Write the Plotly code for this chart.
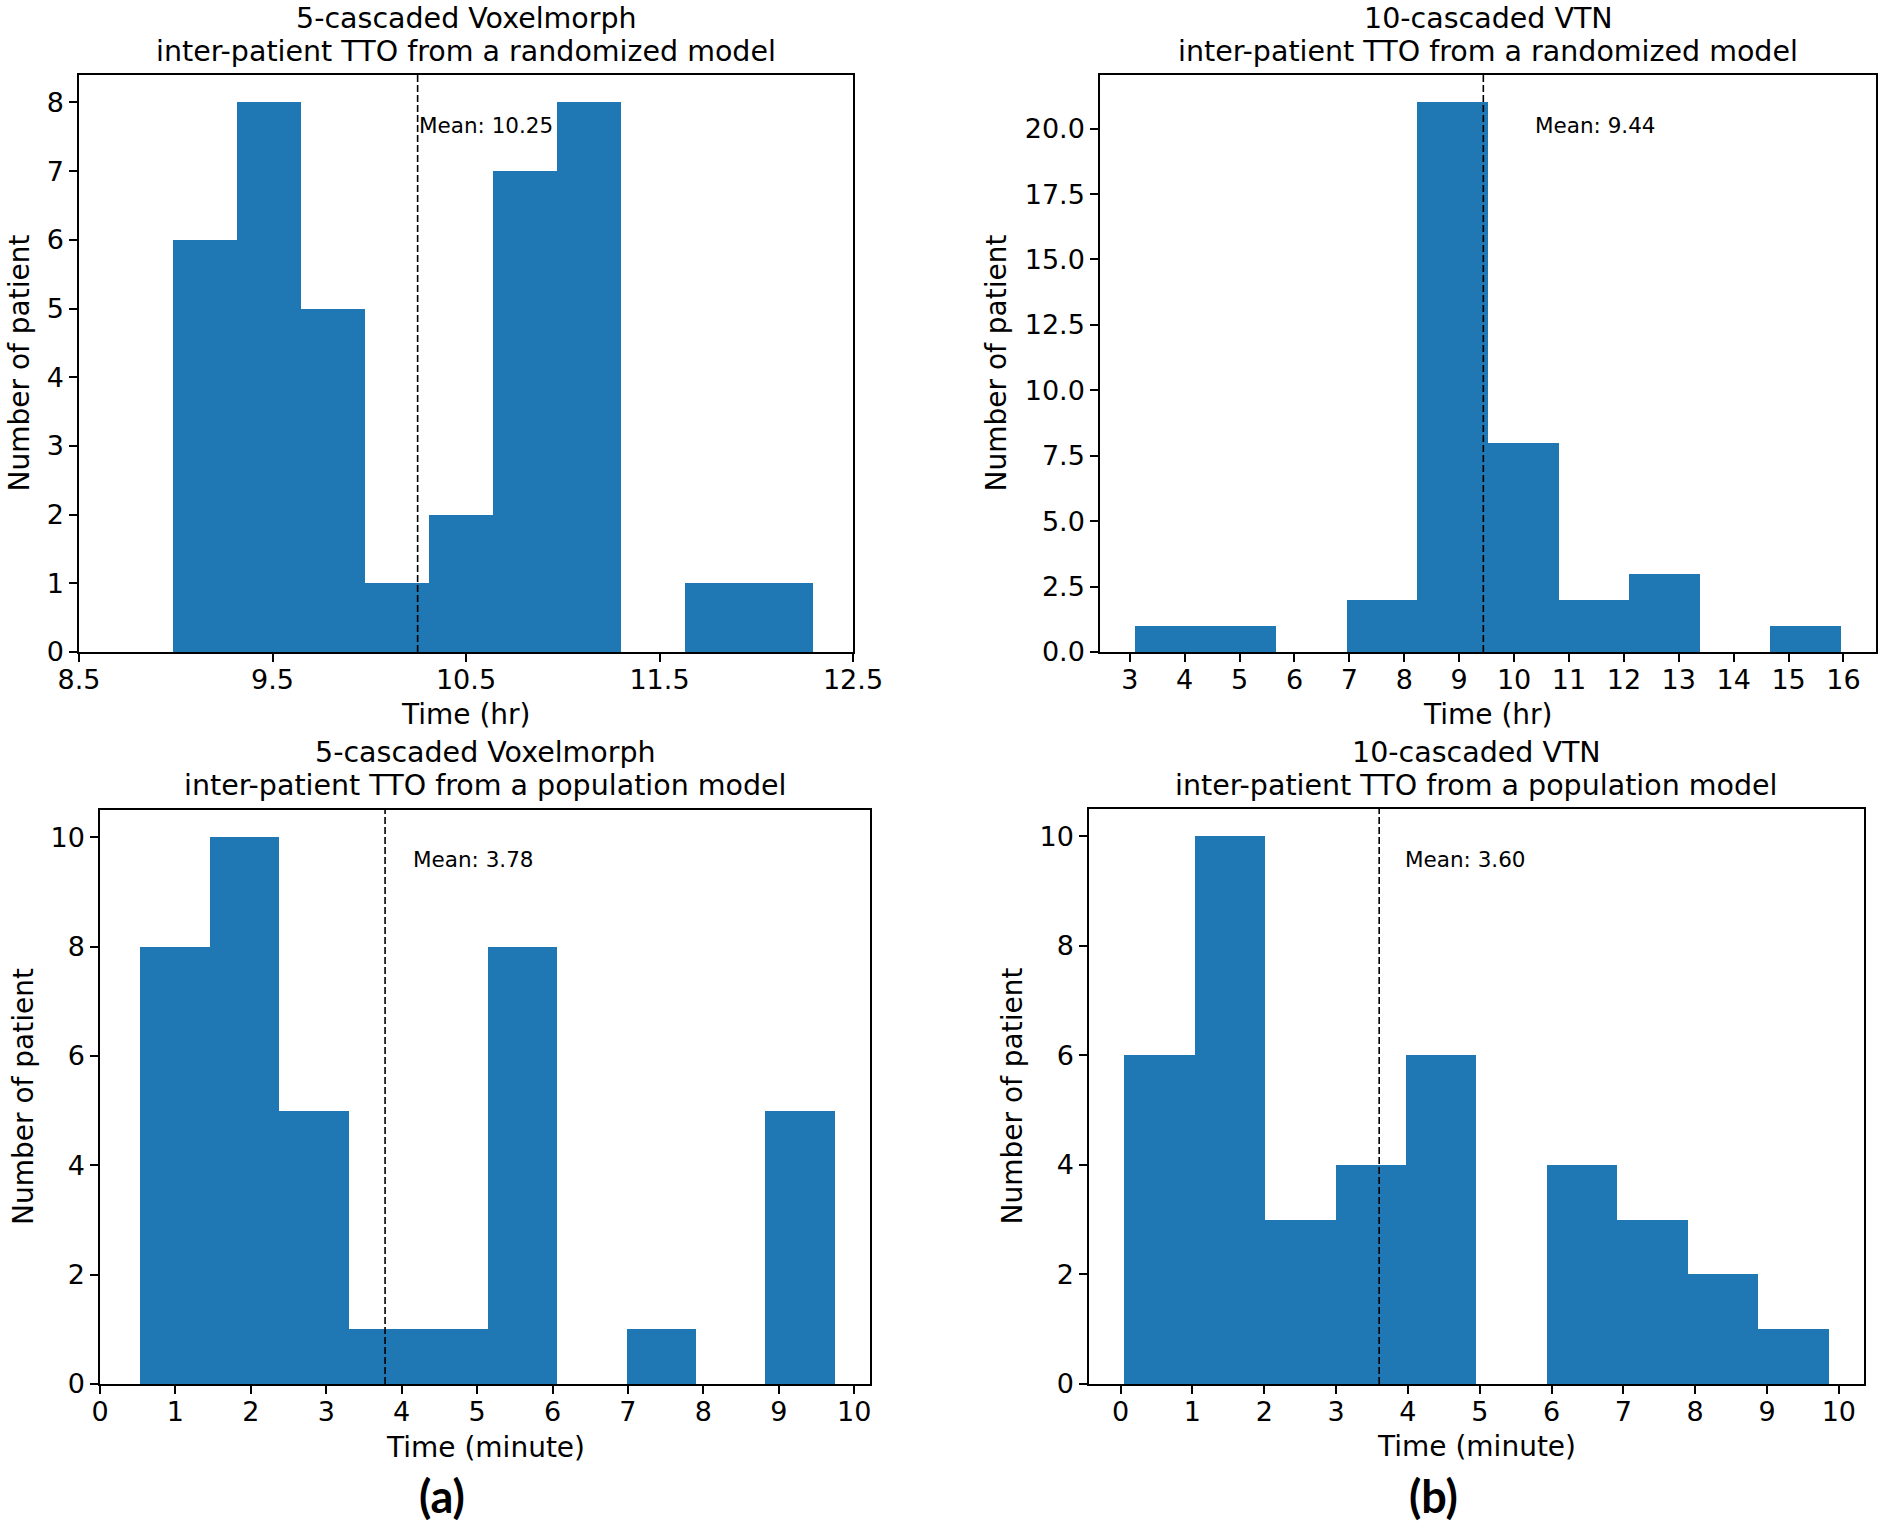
import plotly.graph_objects as go

# ---------------- data ----------------
# (a) top: 5-cascaded Voxelmorph, randomized model (hours)
p1_counts = [6, 8, 5, 1, 2, 7, 8, 0, 1, 1]
p1_first_edge = 8.984
p1_bin_width = 0.3308
p1_mean = 10.25
p1_xticks = [8.5, 9.5, 10.5, 11.5, 12.5]
p1_yticks = [0, 1, 2, 3, 4, 5, 6, 7, 8]

# (b) top: 10-cascaded VTN, randomized model (hours)
p2_counts = [1, 1, 0, 2, 21, 8, 2, 3, 0, 1]
p2_first_edge = 3.10
p2_bin_width = 1.285
p2_mean = 9.44
p2_xticks = [3, 4, 5, 6, 7, 8, 9, 10, 11, 12, 13, 14, 15, 16]
p2_yticks = [0.0, 2.5, 5.0, 7.5, 10.0, 12.5, 15.0, 17.5, 20.0]

# (a) bottom: 5-cascaded Voxelmorph, population model (minutes)
p3_counts = [8, 10, 5, 1, 1, 8, 0, 1, 0, 5]
p3_first_edge = 0.533
p3_bin_width = 0.9212
p3_mean = 3.78
p3_xticks = [0, 1, 2, 3, 4, 5, 6, 7, 8, 9, 10]
p3_yticks = [0, 2, 4, 6, 8, 10]

# (b) bottom: 10-cascaded VTN, population model (minutes)
p4_counts = [6, 10, 3, 4, 6, 0, 4, 3, 2, 1]
p4_first_edge = 0.05
p4_bin_width = 0.9807
p4_mean = 3.60
p4_xticks = [0, 1, 2, 3, 4, 5, 6, 7, 8, 9, 10]
p4_yticks = [0, 2, 4, 6, 8, 10]

titles_line1 = ["5-cascaded Voxelmorph", "10-cascaded VTN",
                "5-cascaded Voxelmorph", "10-cascaded VTN"]
titles_line2 = ["inter-patient TTO from a randomized model",
                "inter-patient TTO from a randomized model",
                "inter-patient TTO from a population model",
                "inter-patient TTO from a population model"]
x_titles = ["Time (hr)", "Time (hr)", "Time (minute)", "Time (minute)"]
y_title = "Number of patient"
panel_labels = ["(a)", "(b)"]

# ---------------- layout / style ----------------
W, H = 1884, 1525
FONT = "DejaVu Sans"
BAR_COLOR = "#1f77b4"

panels = [
    dict(counts=p1_counts, e0=p1_first_edge, bw=p1_bin_width, mean=p1_mean,
         xticks=p1_xticks, yticks=p1_yticks, yfmt="d",
         xrange=[8.5, 12.5], yrange=[0, 8.4],
         px=(79, 853), py=(75, 652), text_x=10.245,
         t1y=19, t2y=51, xty=715, ytx=19),
    dict(counts=p2_counts, e0=p2_first_edge, bw=p2_bin_width, mean=p2_mean,
         xticks=p2_xticks, yticks=p2_yticks, yfmt=".1f",
         xrange=[2.4575, 16.5925], yrange=[0, 22.05],
         px=(1100, 1876), py=(75, 652), text_x=10.34,
         t1y=19, t2y=51, xty=715, ytx=996),
    dict(counts=p3_counts, e0=p3_first_edge, bw=p3_bin_width, mean=p3_mean,
         xticks=p3_xticks, yticks=p3_yticks, yfmt="d",
         xrange=[0, 10.21], yrange=[0, 10.5],
         px=(100, 870), py=(810, 1384), text_x=4.13,
         t1y=752, t2y=785, xty=1447, ytx=23),
    dict(counts=p4_counts, e0=p4_first_edge, bw=p4_bin_width, mean=p4_mean,
         xticks=p4_xticks, yticks=p4_yticks, yfmt="d",
         xrange=[-0.44, 10.35], yrange=[0, 10.5],
         px=(1089, 1864), py=(809, 1384), text_x=3.93,
         t1y=752, t2y=785, xty=1446, ytx=1012),
]

fig = go.Figure()
annotations = []
shapes = []
layout_axes = {}

for i, p in enumerate(panels):
    n = i + 1
    sfx = "" if n == 1 else str(n)
    xa, ya = "x" + sfx, "y" + sfx
    centers = [p["e0"] + (k + 0.5) * p["bw"] for k in range(len(p["counts"]))]
    fig.add_trace(go.Bar(
        x=centers, y=p["counts"], width=[p["bw"]] * len(centers),
        marker=dict(color=BAR_COLOR, line=dict(width=0)),
        xaxis=xa, yaxis=ya, showlegend=False, hoverinfo="x+y",
    ))

    common = dict(showline=True, mirror=True, linecolor="black", linewidth=1.5,
                  ticks="outside", ticklen=8, tickwidth=1.5, tickcolor="black",
                  showgrid=False, zeroline=False, automargin=False,
                  tickfont=dict(family=FONT, size=27, color="black"))
    layout_axes["xaxis" + sfx] = dict(
        domain=[p["px"][0] / W, p["px"][1] / W], anchor=ya,
        range=p["xrange"], tickmode="array", tickvals=p["xticks"],
        ticktext=[("%g" % v) for v in p["xticks"]],
        ticklabelstandoff=-5, **common)
    layout_axes["yaxis" + sfx] = dict(
        domain=[1 - p["py"][1] / H, 1 - p["py"][0] / H], anchor=xa,
        range=p["yrange"], tickmode="array", tickvals=p["yticks"],
        tickformat=p["yfmt"], **common)

    # mean line
    shapes.append(dict(type="line", xref=xa, yref=ya + " domain",
                       x0=p["mean"], x1=p["mean"], y0=0, y1=1,
                       line=dict(color="black", width=1.6, dash="7px,3px"),
                       layer="above"))
    annotations.append(dict(xref=xa, yref=ya + " domain", x=p["text_x"], y=0.913,
                            xanchor="left", yanchor="middle", showarrow=False,
                            text="Mean: %.2f" % p["mean"],
                            font=dict(family=FONT, size=21.5, color="black")))
    cx = (p["px"][0] + p["px"][1]) / 2 / W
    annotations.append(dict(xref="paper", yref="paper", x=cx, y=1 - p["t1y"] / H,
                            xanchor="center", yanchor="middle", showarrow=False,
                            text=titles_line1[i],
                            font=dict(family=FONT, size=28.5, color="black")))
    annotations.append(dict(xref="paper", yref="paper", x=cx, y=1 - p["t2y"] / H,
                            xanchor="center", yanchor="middle", showarrow=False,
                            text=titles_line2[i],
                            font=dict(family=FONT, size=28.5, color="black")))
    annotations.append(dict(xref="paper", yref="paper", x=cx, y=1 - p["xty"] / H,
                            xanchor="center", yanchor="middle", showarrow=False,
                            text=x_titles[i],
                            font=dict(family=FONT, size=28, color="black")))
    cy = 1 - (p["py"][0] + p["py"][1]) / 2 / H
    annotations.append(dict(xref="paper", yref="paper", x=p["ytx"] / W, y=cy,
                            xanchor="center", yanchor="middle", showarrow=False,
                            textangle=-90, text=y_title,
                            font=dict(family=FONT, size=28, color="black")))

annotations.append(dict(xref="paper", yref="paper", x=442 / W, y=0,
                        xanchor="center", yanchor="bottom", showarrow=False,
                        text="<b>%s</b>" % panel_labels[0],
                        font=dict(family="Lato", size=45, color="black")))
annotations.append(dict(xref="paper", yref="paper", x=1433 / W, y=0,
                        xanchor="center", yanchor="bottom", showarrow=False,
                        text="<b>%s</b>" % panel_labels[1],
                        font=dict(family="Lato", size=45, color="black")))

fig.update_layout(
    width=W, height=H, margin=dict(l=0, r=0, t=0, b=0, autoexpand=False),
    paper_bgcolor="white", plot_bgcolor="white",
    bargap=0, annotations=annotations, shapes=shapes,
    font=dict(family=FONT, color="black"),
    **layout_axes,
)

fig.write_html(
    "out.html",
    config={"displayModeBar": False},
    post_script="document.body.style.margin='0px';"
                "document.body.style.overflow='hidden';",
)
